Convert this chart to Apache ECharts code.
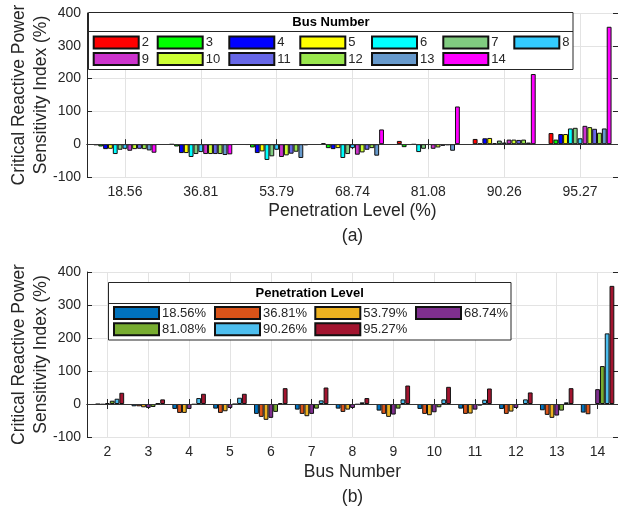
<!DOCTYPE html>
<html>
<head>
<meta charset="utf-8">
<script src="https://cdn.jsdelivr.net/npm/echarts@6/dist/echarts.min.js"></script>
<style>
html,body{margin:0;padding:0;background:#fff;}
#chart{width:618px;height:508px;}
</style>
</head>
<body>
<div id="chart"></div>
<script>
// ---- data ----
const penetrationLevels = ['18.56', '36.81', '53.79', '68.74', '81.08', '90.26', '95.27'];
const penetrationNames = ['18.56%', '36.81%', '53.79%', '68.74%', '81.08%', '90.26%', '95.27%'];
const busNumbers = ['2', '3', '4', '5', '6', '7', '8', '9', '10', '11', '12', '13', '14'];
const yTicks = [-100, 0, 100, 200, 300, 400];

// values per bus, one entry per penetration level
const bus2  = [-3, -1, -2, 3, 10, 16, 34];
const bus3  = [-7, -7, -10, -12, -9, 2, 14];
const bus4  = [-15, -27, -27, -15, -2, 18, 31];
const bus5  = [-14, -27, -22, -12, -1, 19, 31];
const bus6  = [-30, -39, -48, -42, -24, 3, 48];
const bus7  = [-17, -30, -37, -30, -14, 11, 50];
const bus8  = [-14, -24, -17, -12, -2, 5, 18];
const bus9  = [-20, -30, -39, -32, -14, 14, 56];
const bus10 = [-15, -30, -34, -25, -10, 14, 52];
const bus11 = [-14, -30, -29, -17, -5, 13, 47];
const bus12 = [-15, -30, -23, -12, -3, 14, 35];
const bus13 = [-19, -33, -42, -35, -20, 5, 48];
const bus14 = [-26, -31, -3, 45, 115, 214, 358];
const busRows = [bus2, bus3, bus4, bus5, bus6, bus7, bus8, bus9, bus10, bus11, bus12, bus13, bus14];

// ---- styles ----
const busColors = ['#FF0000', '#00FF00', '#0000FF', '#FFFF00', '#00FFFF', '#80CC80', '#33CCFF',
                   '#CC33CC', '#CCFF33', '#6666E6', '#99E64D', '#6699CC', '#FF00FF'];
const penColors = ['#0072BD', '#D95319', '#EDB120', '#7E2F8E', '#77AC30', '#4DBEEE', '#A2142F'];
const FONT = "'Liberation Sans', Arial, Helvetica, sans-serif";
const AX = '#262626';

const chart = echarts.init(document.getElementById('chart'), null, {renderer: 'canvas'});

const grids = [
  {left: 87, top: 13, width: 531, height: 164, containLabel: false, outerBoundsMode: 'none'},
  {left: 87, top: 272, width: 531, height: 165, containLabel: false, outerBoundsMode: 'none'}
];

function catAxis(gridIndex, data, pos, name, nameGap, labelMargin) {
  const main = pos === 'bottom';
  return {
    type: 'category', gridIndex: gridIndex, position: pos, data: data,
    boundaryGap: true,
    axisLine: {show: true, lineStyle: {color: AX, width: 1}},
    axisTick: {show: true, inside: true, length: 5, alignWithLabel: true, interval: 0, lineStyle: {color: AX}},
    axisLabel: {show: main, interval: 0, margin: labelMargin, color: AX, fontSize: 14, fontFamily: FONT},
    splitLine: {show: main, alignWithLabel: true, interval: 0, lineStyle: {color: '#e3e3e3', width: 1}},
    name: main ? name : '',
    nameLocation: 'middle', nameGap: nameGap, nameMoveOverlap: false,
    nameTextStyle: {color: AX, fontSize: 17.5, lineHeight: 25, fontFamily: FONT}
  };
}
function valAxis(gridIndex, pos) {
  const main = pos === 'left';
  return {
    type: 'value', gridIndex: gridIndex, position: pos,
    min: yTicks[0], max: yTicks[yTicks.length - 1], interval: 100,
    axisLine: {show: true, lineStyle: {color: AX, width: 1}},
    axisTick: {show: true, inside: true, length: 5, lineStyle: {color: AX}},
    axisLabel: {show: main, margin: 6, color: AX, fontSize: 14, fontFamily: FONT},
    splitLine: {show: main, lineStyle: {color: '#e3e3e3', width: 1}},
    name: main ? 'Critical Reactive Power\nSensitivity Index (%)' : '',
    nameLocation: 'middle', nameRotate: 90, nameGap: 35, nameMoveOverlap: false,
    nameTextStyle: {color: AX, fontSize: 17.5, lineHeight: 22, fontFamily: FONT}
  };
}

const xAxes = [
  catAxis(0, penetrationLevels, 'bottom', 'Penetration Level (%)\n(a)', 22, 8),
  catAxis(0, penetrationLevels, 'top', '', 0, 8),
  catAxis(1, busNumbers, 'bottom', 'Bus Number\n(b)', 23, 8),
  catAxis(1, busNumbers, 'top', '', 0, 8)
];
const yAxes = [valAxis(0, 'left'), valAxis(0, 'right'), valAxis(1, 'left'), valAxis(1, 'right')];

const zeroLine = {
  silent: true, symbol: 'none', label: {show: false},
  lineStyle: {color: '#333', width: 1, type: 'solid'},
  data: [{yAxis: 0}]
};

const series = [];
busNumbers.forEach(function (b, i) {
  series.push({
    name: b, type: 'bar', xAxisIndex: 0, yAxisIndex: 0,
    data: busRows[i],
    barGap: '0%', barCategoryGap: '17%',
    itemStyle: {color: busColors[i], borderColor: '#111', borderWidth: 1},
    markLine: i === 0 ? zeroLine : undefined
  });
});
penetrationNames.forEach(function (p, j) {
  series.push({
    name: p, type: 'bar', xAxisIndex: 2, yAxisIndex: 2,
    data: busRows.map(function (r) { return r[j]; }),
    barGap: '0%', barCategoryGap: '18%',
    itemStyle: {color: penColors[j], borderColor: '#111', borderWidth: 1},
    markLine: j === 0 ? zeroLine : undefined
  });
});

// legends laid out as columns
const topCols = [92.7, 156.7, 228.3, 299.3, 371, 442.3, 513.3];
const topRows = [42.5, 59];
const botCols = [113, 214, 314.3, 415];
const botRows = [313, 329.2];
const legends = [];
function addLegend(name, x, yc) {
  legends.push({
    data: [name], left: x, top: yc - 7, padding: 0,
    itemWidth: 45, itemHeight: 12, icon: 'rect', selectedMode: false,
    textStyle: {color: AX, fontSize: 13, lineHeight: 14, fontFamily: FONT, padding: [0, 0, 0, -2]},
    z: 10
  });
}
busNumbers.forEach(function (b, i) { addLegend(b, topCols[i % 7], topRows[Math.floor(i / 7)]); });
penetrationNames.forEach(function (p, j) { addLegend(p, botCols[j % 4], botRows[Math.floor(j / 4)]); });

const graphic = [
  {type: 'rect', z: 5, shape: {x: 88.5, y: 12.5, width: 484.5, height: 57}, style: {fill: '#fff', stroke: AX, lineWidth: 1}},
  {type: 'line', z: 6, shape: {x1: 88.5, y1: 31.5, x2: 573, y2: 31.5}, style: {stroke: AX, lineWidth: 1}},
  {type: 'text', z: 6, x: 331, y: 22.5, style: {text: 'Bus Number', fill: '#000', font: 'bold 13px ' + FONT, textAlign: 'center', textVerticalAlign: 'middle'}},
  {type: 'rect', z: 5, shape: {x: 108.5, y: 282.5, width: 402.5, height: 57.5}, style: {fill: '#fff', stroke: AX, lineWidth: 1}},
  {type: 'line', z: 6, shape: {x1: 108.5, y1: 303.5, x2: 511, y2: 303.5}, style: {stroke: AX, lineWidth: 1}},
  {type: 'text', z: 6, x: 309.7, y: 293.3, style: {text: 'Penetration Level', fill: '#000', font: 'bold 13px ' + FONT, textAlign: 'center', textVerticalAlign: 'middle'}}
];

chart.setOption({
  backgroundColor: '#fff',
  animation: false,
  textStyle: {fontFamily: FONT},
  grid: grids,
  xAxis: xAxes,
  yAxis: yAxes,
  legend: legends,
  graphic: graphic,
  series: series
});
</script>
</body>
</html>
